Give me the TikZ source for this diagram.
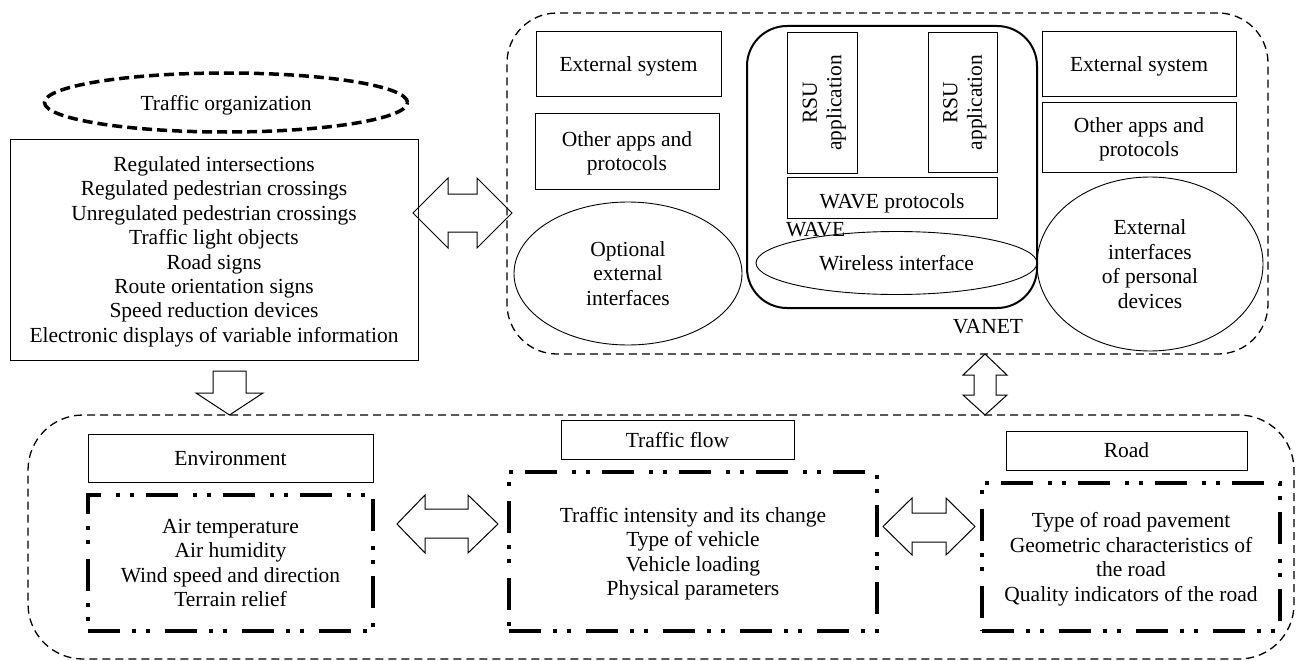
\documentclass[tikz,border=0pt]{standalone}
\usepackage{fontspec}
\setmainfont{Liberation Serif}
\usetikzlibrary{shapes.geometric}
\tikzset{
  txt/.style={font=\fontsize{21.5}{24.4}\selectfont, align=center, inner sep=0pt, outer sep=0pt, text depth=0pt},
  box/.style={txt, draw, line width=1pt, rectangle},
  oval/.style={txt, draw, line width=0.9pt, ellipse},
  container/.style={draw, line width=1.3pt, dash pattern=on 8pt off 5pt, rounded corners=50pt, inner sep=0pt, outer sep=0pt, minimum width=#1},
  dashdot/.style={txt, draw, line width=3.6pt, dash pattern=on 32pt off 12pt on 4pt off 10pt on 4pt off 15pt},
  blockarrow/.style={draw, line width=1pt, line join=miter},
}
\begin{document}
\begin{tikzpicture}[x=1pt,y=-1pt]
\useasboundingbox (0,0) rectangle (1298,661);

% containers
\node[container=761pt, minimum height=341pt] (topbox) at (887.5,183.5) {};
\node[container=1266pt, minimum height=244pt, rounded corners=55pt] (botbox) at (661,537) {};

% traffic organization
\node[oval, line width=3.5pt, dash pattern=on 10pt off 5pt, minimum width=363pt, minimum height=59pt] (org) at (226,102.5) {Traffic organization};
\node[box, minimum width=408pt, minimum height=221pt] (orglist) at (214,249.5) {Regulated intersections\\Regulated pedestrian crossings\\Unregulated pedestrian crossings\\Traffic light objects\\Road signs\\Route orientation signs\\Speed reduction devices\\Electronic displays of variable information};

% top container content (left)
\node[box, minimum width=185pt, minimum height=64pt] (ext1) at (628.5,64) {External system};
\node[box, minimum width=184pt, minimum height=76pt] (apps1) at (627,151) {Other apps and\\protocols};
\node[oval, minimum width=228pt, minimum height=143pt] (opt) at (628,273.5) {Optional\\external\\interfaces};

% VANET
\node[draw, line width=2pt, rounded corners=40pt, minimum width=290pt, minimum height=282pt, inner sep=0pt] (vanet) at (892,167) {};
\node[box, rotate=90, minimum width=140pt, minimum height=70pt] (rsu1) at (822,103) {RSU\\application};
\node[box, rotate=90, minimum width=139pt, minimum height=69pt] (rsu2) at (962.5,102.5) {RSU\\application};
\node[box, minimum width=210pt, minimum height=41pt] (wavep) at (892,197.5) {};
\node[txt] (wavept) at (892,201) {WAVE protocols};
\node[txt, anchor=west] (wave) at (786,229) {WAVE};
\node[oval, minimum width=281pt, minimum height=63pt] (wireless) at (896.5,263) {Wireless interface};
\node[txt] (vanetlbl) at (988,326) {VANET};

% top container content (right)
\node[box, minimum width=194pt, minimum height=64pt] (ext2) at (1139,64) {External system};
\node[box, minimum width=194pt, minimum height=70pt] (apps2) at (1139,137) {Other apps and\\protocols};
\node[oval, minimum width=226pt, minimum height=174pt] (pers) at (1150,264) {External\\interfaces\\of personal\\devices};

% bottom container content
\node[box, minimum width=285pt, minimum height=48pt] (envt) at (230.5,458) {Environment};
\node[dashdot, minimum width=285pt, minimum height=136pt] (env) at (230.5,563) {Air temperature\\Air humidity\\Wind speed and direction\\Terrain relief};
\node[box, minimum width=233pt, minimum height=39pt] (flowt) at (677.5,439.5) {Traffic flow};
\node[dashdot, minimum width=368pt, minimum height=159pt] (flow) at (693,551.5) {Traffic intensity and its change\\Type of vehicle\\Vehicle loading\\Physical parameters};
\node[box, minimum width=241pt, minimum height=39pt] (roadt) at (1126.5,450.5) {Road};
\node[dashdot, minimum width=298pt, minimum height=148pt] (road) at (1131,557) {Type of road pavement\\Geometric characteristics of\\the road\\Quality indicators of the road};

% block arrows
\draw[blockarrow] (413,213) -- (448,178) -- (448,194) -- (477,194) -- (477,178) -- (512,213) -- (477,248) -- (477,232) -- (448,232) -- (448,248) -- cycle;
\draw[blockarrow] (213,371) -- (246,371) -- (246,393) -- (263,393) -- (229.5,415) -- (196,393) -- (213,393) -- cycle;
\draw[blockarrow] (985,354) -- (1007,375) -- (996,375) -- (996,395) -- (1007,395) -- (985,415) -- (963,395) -- (974,395) -- (974,375) -- (963,375) -- cycle;
\draw[blockarrow] (397,524) -- (425,495) -- (425,509) -- (468,509) -- (468,495) -- (498,524) -- (468,553) -- (468,538) -- (425,538) -- (425,553) -- cycle;
\draw[blockarrow] (883,526.5) -- (912,498) -- (912,513) -- (946,513) -- (946,498) -- (975,526.5) -- (946,555) -- (946,542) -- (912,542) -- (912,555) -- cycle;
\end{tikzpicture}
\end{document}
